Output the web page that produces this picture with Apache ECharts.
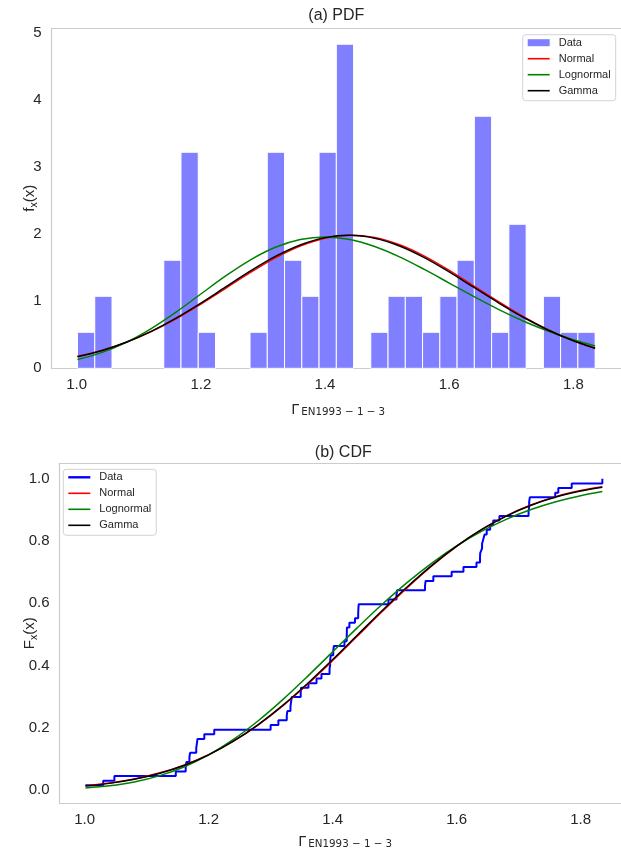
<!DOCTYPE html>
<html>
<head>
<meta charset="utf-8">
<script src="https://cdn.jsdelivr.net/npm/echarts@6/dist/echarts.min.js"></script>
<style>
  html, body { margin: 0; padding: 0; background: #ffffff; }
  #chart { width: 621px; height: 851px; }
</style>
</head>
<body>
<div id="chart"></div>
<script>
// ---- (a) histogram of the sample, density-normalised, 30 bins ----
const binEdges = [1.0013, 1.0291, 1.0569, 1.0847, 1.1125, 1.1403, 1.1680, 1.1958, 1.2236, 1.2514,
                  1.2792, 1.3070, 1.3348, 1.3626, 1.3904, 1.4182, 1.4460, 1.4737, 1.5015, 1.5293,
                  1.5571, 1.5849, 1.6127, 1.6405, 1.6683, 1.6961, 1.7239, 1.7517, 1.7794, 1.8072, 1.8350];
const binDensity = [0.537, 1.074, 0, 0, 0, 1.611, 3.222, 0.537, 0, 0,
                    0.537, 3.222, 1.611, 1.074, 3.222, 4.833, 0, 0.537, 1.074, 1.074,
                    0.537, 1.074, 1.611, 3.759, 0.537, 2.148, 0, 1.074, 0.537, 0.537];

// ---- fitted distributions, sampled along x ----
const curveX       = [1.0013, 1.04, 1.08, 1.12, 1.16, 1.20, 1.24, 1.28, 1.32, 1.36, 1.40,
                      1.44, 1.48, 1.52, 1.56, 1.60, 1.64, 1.68, 1.72, 1.76, 1.80, 1.835];
const pdfNormal    = [0.1787, 0.2675, 0.3905, 0.5479, 0.7389, 0.9578, 1.1936, 1.4298, 1.6464, 1.8222, 1.9386,
                      1.9826, 1.9490, 1.8417, 1.6729, 1.4607, 1.2260, 0.9891, 0.7670, 0.5718, 0.4097, 0.2963];
const pdfLognormal = [0.1314, 0.2342, 0.3883, 0.5923, 0.8382, 1.1081, 1.3769, 1.6172, 1.8044, 1.9211, 1.9592,
                      1.9211, 1.8167, 1.6617, 1.4741, 1.2713, 1.0680, 0.8758, 0.7024, 0.5518, 0.4251, 0.3336];
const pdfGamma     = [0.1728, 0.2630, 0.3890, 0.5510, 0.7478, 0.9727, 1.2135, 1.4524, 1.6684, 1.8399, 1.9487,
                      1.9833, 1.9401, 1.8249, 1.6513, 1.4380, 1.2056, 0.9735, 0.7573, 0.5679, 0.4106, 0.3002];
const cdfNormal    = [0.0141, 0.0227, 0.0357, 0.0544, 0.0800, 0.1139, 0.1569, 0.2094, 0.2710, 0.3405, 0.4160,
                      0.4947, 0.5735, 0.6496, 0.7201, 0.7828, 0.8366, 0.8809, 0.9159, 0.9426, 0.9621, 0.9744];
const cdfLognormal = [0.0068, 0.0137, 0.0260, 0.0454, 0.0739, 0.1128, 0.1626, 0.2226, 0.2912, 0.3660, 0.4439,
                      0.5217, 0.5967, 0.6664, 0.7292, 0.7841, 0.8309, 0.8697, 0.9012, 0.9262, 0.9457, 0.9589];
const cdfGamma     = [0.0130, 0.0213, 0.0343, 0.0529, 0.0788, 0.1131, 0.1568, 0.2102, 0.2727, 0.3431, 0.4191,
                      0.4980, 0.5767, 0.6522, 0.7219, 0.7838, 0.8367, 0.8802, 0.9148, 0.9412, 0.9606, 0.9730];

// ---- (b) empirical CDF: sorted sample and its cumulative fraction ----
const sampleSorted = [1.0013, 1.030, 1.048, 1.147, 1.163, 1.164, 1.169, 1.170, 1.180, 1.181,
                      1.182, 1.193, 1.209, 1.300, 1.3125, 1.326, 1.327, 1.332, 1.333, 1.334,
                      1.3485, 1.349, 1.361, 1.374, 1.382, 1.395, 1.396, 1.396, 1.397, 1.401,
                      1.402, 1.419, 1.4227, 1.4229, 1.423, 1.427, 1.436, 1.4412, 1.4415, 1.442,
                      1.490, 1.503, 1.504, 1.549, 1.550, 1.5624, 1.592, 1.611, 1.632, 1.6377,
                      1.638, 1.641, 1.641, 1.643, 1.645, 1.6485, 1.654, 1.659, 1.669, 1.716,
                      1.717, 1.717, 1.718, 1.759, 1.764, 1.7856, 1.835];
const ecdfLevel = [0.0149, 0.0299, 0.0448, 0.0597, 0.0746, 0.0896, 0.1045, 0.1194, 0.1343, 0.1493,
                   0.1642, 0.1791, 0.1940, 0.2090, 0.2239, 0.2388, 0.2537, 0.2687, 0.2836, 0.2985,
                   0.3134, 0.3284, 0.3433, 0.3582, 0.3731, 0.3881, 0.4030, 0.4179, 0.4328, 0.4478,
                   0.4627, 0.4776, 0.4925, 0.5075, 0.5224, 0.5373, 0.5522, 0.5672, 0.5821, 0.5970,
                   0.6119, 0.6269, 0.6418, 0.6567, 0.6716, 0.6866, 0.7015, 0.7164, 0.7313, 0.7463,
                   0.7612, 0.7761, 0.7910, 0.8060, 0.8209, 0.8358, 0.8507, 0.8657, 0.8806, 0.8955,
                   0.9104, 0.9254, 0.9403, 0.9552, 0.9701, 0.9851, 1.0000];

// ---- tick labels ----
const xTicks = [1.0, 1.2, 1.4, 1.6, 1.8];
const pdfTicks = [0, 1, 2, 3, 4, 5];
const cdfTicks = [0.0, 0.2, 0.4, 0.6, 0.8, 1.0];

// ---- styling ----
const INK = '#262626';
const SPINE = '#cccccc';
const SANS = '"Liberation Sans", Arial, sans-serif';
const MATH = '"DejaVu Sans", sans-serif';
const C_NORMAL = '#ff0000', C_LOGN = '#008000', C_GAMMA = '#000000', C_DATA = '#0000ff';
const LINE_ICON = 'path://M0,0H22V1.6H0Z';
const THICK_ICON = 'path://M0,0H22V2.4H0Z';
const RECT_ICON = 'path://M0,0H22V7H0Z';

const pairs = (xs, ys) => xs.map((x, i) => [x, ys[i]]);

function bottomAxis(grid, min, max) {
  return {
    type: 'value', gridIndex: grid, min: min, max: max, position: 'bottom',
    axisLine: { show: true, onZero: false, lineStyle: { color: SPINE, width: 1.2 } },
    axisTick: { show: false }, splitLine: { show: false },
    axisLabel: { customValues: xTicks, formatter: v => v.toFixed(1), color: INK,
                 fontSize: 15, fontFamily: SANS, margin: 9 }
  };
}
function topSpine(grid, min, max) {
  return {
    type: 'value', gridIndex: grid, min: min, max: max, position: 'top',
    axisLine: { show: true, onZero: false, lineStyle: { color: SPINE, width: 1.2 } },
    axisTick: { show: false }, splitLine: { show: false }, axisLabel: { show: false }
  };
}
function leftAxis(grid, min, max, ticks, digits) {
  return {
    type: 'value', gridIndex: grid, min: min, max: max,
    axisLine: { show: true, onZero: false, lineStyle: { color: SPINE, width: 1.2 } },
    axisTick: { show: false }, splitLine: { show: false },
    axisLabel: { customValues: ticks, formatter: v => v.toFixed(digits), color: INK,
                 fontSize: 15, fontFamily: SANS, margin: 10 }
  };
}
function fitLine(name, xAxis, yAxis, ys, color, z) {
  return {
    name: name, type: 'line', xAxisIndex: xAxis, yAxisIndex: yAxis,
    data: pairs(curveX, ys), smooth: 0.35, symbol: 'none', showSymbol: false,
    lineStyle: { color: color, width: 1.5 }, itemStyle: { color: color },
    z: z, silent: true, clip: false
  };
}
function legendBox(left, top, items) {
  return {
    data: items, orient: 'vertical', left: left, top: top,
    itemWidth: 22, itemHeight: 7, itemGap: 2, padding: [1, 5, 3, 5],
    backgroundColor: 'rgba(255,255,255,0.85)', borderColor: '#d3d3d3', borderWidth: 1, borderRadius: 3,
    selectedMode: false, formatter: n => n.split(' ')[1],
    textStyle: { fontSize: 11, color: INK, fontFamily: SANS, lineHeight: 14, padding: [0, 0, 0, 4] }
  };
}
// axis title Γ with its subscript, centred on cx, glyph box starting at yTop
function gammaTitle(cx, yTop) {
  return {
    type: 'group', silent: true,
    children: [
      { type: 'text', x: cx - 45, y: yTop, style: { text: 'Γ', font: '14px ' + MATH, fill: INK, verticalAlign: 'top' } },
      { type: 'text', x: cx - 35, y: yTop + 4.5, style: { text: 'EN1993 − 1 − 3', font: '10.3px ' + MATH, fill: INK, verticalAlign: 'top' } }
    ]
  };
}
// rotated y-axis title: main letter, subscript x, then (x)
function yTitle(cx, cy, letter) {
  const w = letter === 'F' ? 9.2 : 4.2;
  const start = -(w + 5.3 + 17.5) / 2;
  return {
    type: 'group', x: cx, y: cy, rotation: Math.PI / 2, silent: true,
    children: [
      { type: 'text', x: start, y: 0, style: { text: letter, font: '15px ' + SANS, fill: INK, verticalAlign: 'middle' } },
      { type: 'text', x: start + w, y: 4, style: { text: 'x', font: '10.5px ' + SANS, fill: INK, verticalAlign: 'middle' } },
      { type: 'text', x: start + w + 5.3, y: 0, style: { text: '(x)', font: '15px ' + SANS, fill: INK, verticalAlign: 'middle' } }
    ]
  };
}

const chart = echarts.init(document.getElementById('chart'), null, { renderer: 'canvas' });

const option = {
  animation: false,
  backgroundColor: '#ffffff',
  grid: [
    { left: 51.6, top: 28, width: 569.4, height: 340.3, outerBoundsMode: 'none' },
    { left: 59.6, top: 463.3, width: 561.4, height: 340, outerBoundsMode: 'none' }
  ],
  xAxis: [
    bottomAxis(0, 0.9596, 1.8767),
    topSpine(0, 0.9596, 1.8767),
    bottomAxis(1, 0.9596, 1.8651),
    topSpine(1, 0.9596, 1.8651)
  ],
  yAxis: [
    leftAxis(0, 0, 5.075, pdfTicks, 0),
    leftAxis(1, -0.0427, 1.0497, cdfTicks, 1)
  ],
  legend: [
    legendBox(522.7, 34.7, [
      { name: 'PDF Data', icon: RECT_ICON },
      { name: 'PDF Normal', icon: LINE_ICON },
      { name: 'PDF Lognormal', icon: LINE_ICON },
      { name: 'PDF Gamma', icon: LINE_ICON }
    ]),
    legendBox(63.3, 469.3, [
      { name: 'CDF Data', icon: THICK_ICON },
      { name: 'CDF Normal', icon: LINE_ICON },
      { name: 'CDF Lognormal', icon: LINE_ICON },
      { name: 'CDF Gamma', icon: LINE_ICON }
    ])
  ],
  series: [
    {
      name: 'PDF Data', type: 'custom', xAxisIndex: 0, yAxisIndex: 0, silent: true,
      dimensions: ['x0', 'x1', 'density'],
      encode: { x: [0, 1], y: 2 },
      data: binDensity.map((d, i) => [binEdges[i], binEdges[i + 1], d]),
      itemStyle: { color: 'rgba(0,0,255,0.5)' },
      renderItem: function (params, api) {
        if (!(api.value(2) > 0)) return null;
        const tl = api.coord([api.value(0), api.value(2)]);
        const br = api.coord([api.value(1), 0]);
        return {
          type: 'rect',
          shape: { x: tl[0], y: tl[1], width: br[0] - tl[0], height: br[1] - tl[1] },
          style: { fill: 'rgba(0,0,255,0.5)', stroke: '#ffffff', lineWidth: 1 }
        };
      },
      z: 1
    },
    fitLine('PDF Normal', 0, 0, pdfNormal, C_NORMAL, 2),
    fitLine('PDF Lognormal', 0, 0, pdfLognormal, C_LOGN, 3),
    fitLine('PDF Gamma', 0, 0, pdfGamma, C_GAMMA, 4),
    {
      name: 'CDF Data', type: 'line', xAxisIndex: 2, yAxisIndex: 1,
      data: pairs(sampleSorted, ecdfLevel), step: 'end', symbol: 'none', showSymbol: false,
      lineStyle: { color: C_DATA, width: 2 }, itemStyle: { color: C_DATA }, z: 1, silent: true, clip: false
    },
    fitLine('CDF Normal', 2, 1, cdfNormal, C_NORMAL, 2),
    fitLine('CDF Lognormal', 2, 1, cdfLognormal, C_LOGN, 3),
    fitLine('CDF Gamma', 2, 1, cdfGamma, C_GAMMA, 4)
  ],
  graphic: [
    { type: 'text', x: 336.3, y: 15.5, silent: true,
      style: { text: '(a) PDF', font: '16px ' + SANS, fill: INK, align: 'center', verticalAlign: 'middle' } },
    { type: 'text', x: 343.3, y: 452.5, silent: true,
      style: { text: '(b) CDF', font: '16px ' + SANS, fill: INK, align: 'center', verticalAlign: 'middle' } },
    gammaTitle(336.3, 403),
    gammaTitle(343.3, 835),
    yTitle(30, 198.2, 'f'),
    yTitle(30, 633.3, 'F')
  ]
};

chart.setOption(option);
</script>
</body>
</html>
